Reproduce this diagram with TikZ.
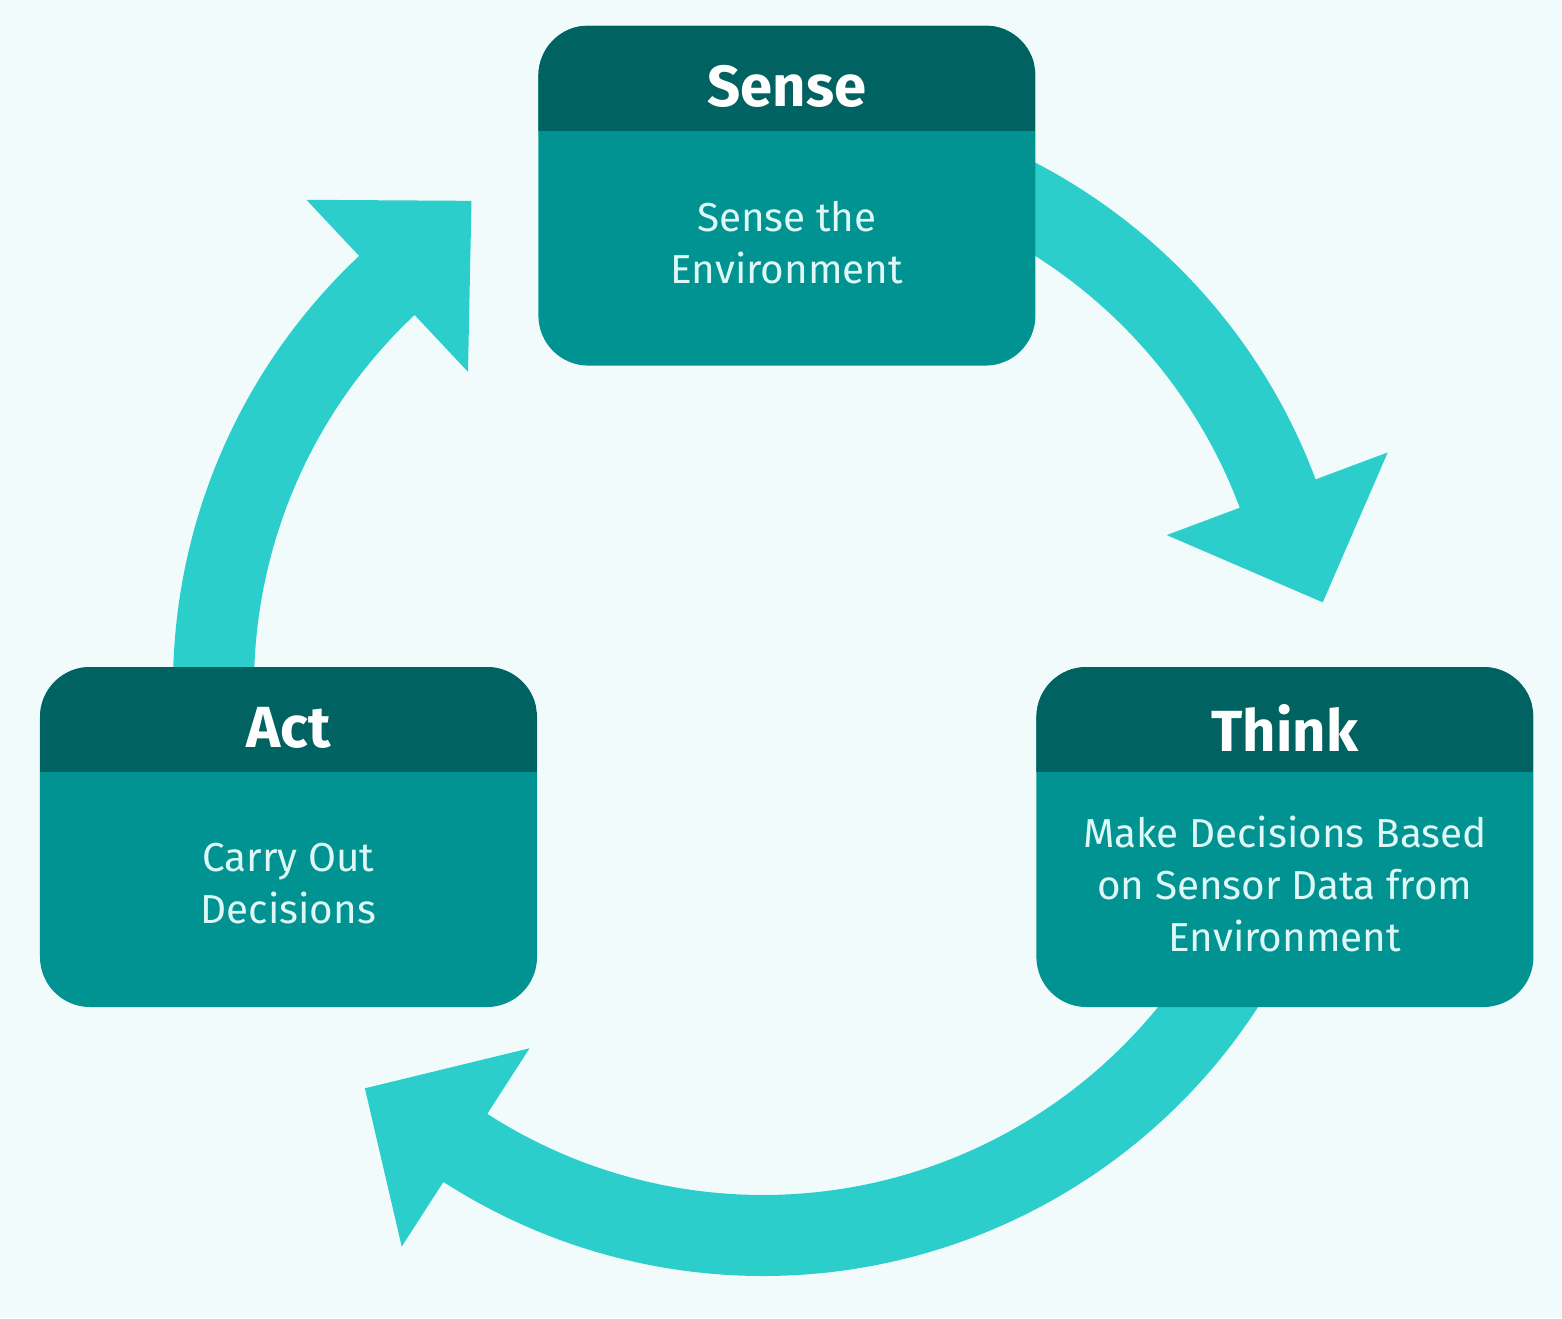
\documentclass[tikz,border=0pt]{standalone}
\usepackage{fontspec}
\setmainfont{Fira Sans}
\usetikzlibrary{calc, positioning}

\definecolor{bgcol}{HTML}{F2FBFB}
\definecolor{headcol}{HTML}{006361}
\definecolor{bodycol}{HTML}{009391}
\definecolor{loopcol}{HTML}{2CCECC}
\definecolor{textcol}{HTML}{DDF8F6}

% #1 start angle, #2 head angle, #3 tip angle
\newcommand{\cyclearrow}[3]{%
    \fill[loopcol] ($(hub)+(#1:5.90)$) arc[start angle=#1, end angle=#2, radius=5.90]
        -- ($(hub)+(#2:6.67)$) -- ($(hub)+(#3:5.66)$) -- ($(hub)+(#2:4.31)$)
        -- ($(hub)+(#2:5.09)$) arc[start angle=#2, end angle=#1, radius=5.09] -- cycle;}

\begin{document}
\begin{tikzpicture}[
            box/.style={rectangle, rounded corners=0.5cm, fill=bodycol, minimum width=4.97cm, minimum height=3.40cm, inner sep=0pt,
                path picture={\fill[headcol, sharp corners] (path picture bounding box.north west) rectangle ([yshift=-1.05cm]path picture bounding box.north east);}},
            title/.style={text=white, font=\fontsize{16.5}{20}\selectfont\bfseries},
            label/.style={text=textcol, align=center, font=\fontsize{11.5}{14.8}\selectfont}
        ]

        % Background
        \fill[bgcol] (0,0) rectangle (15.62,13.18);
        \coordinate (hub) at (7.63,6.32);

        % Cycle arrows
        \cyclearrow{75}{20.5}{8.5}
        \cyclearrow{-30}{-122.8}{-134.7}
        \cyclearrow{190}{133.2}{121.0}

        % Boxes
        \node[box] (act) at (2.885,4.81) {};
        \node[box, above right=3.0cm and 0cm of act] (sense) {};
        \node[box, right=4.98cm of act] (think) {};

        % Headers
        \node[title] (sensehead) at ([yshift=-0.62cm]sense.north) {Sense};
        \node[title] (thinkhead) at ([yshift=-0.62cm]think.north) {Think};
        \node[title] (acthead) at ([yshift=-0.62cm]act.north) {Act};

        % Texts
        \node[label] (sensetext) at ([yshift=1.24cm]sense.south) {Sense the\\Environment};
        \node[label] (thinktext) at ([yshift=1.24cm]think.south) {Make Decisions Based\\on Sensor Data from\\Environment};
        \node[label] (acttext) at ([yshift=1.24cm]act.south) {Carry Out\\Decisions};

    \end{tikzpicture}
\end{document}
